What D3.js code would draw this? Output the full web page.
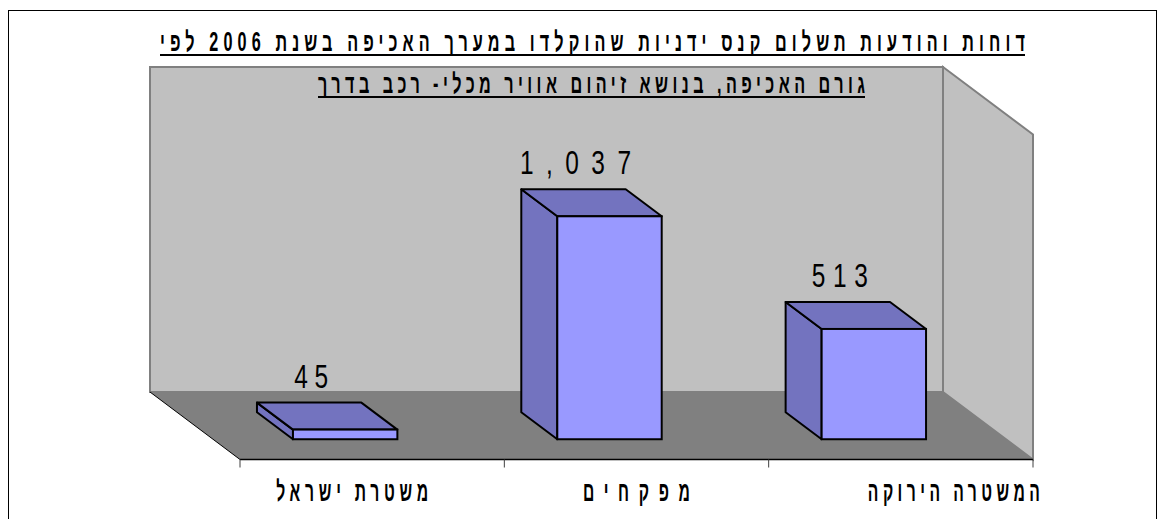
<!DOCTYPE html>
<html>
<head>
<meta charset="utf-8">
<script src="https://cdn.jsdelivr.net/npm/d3@7"></script>
<style>
  body { margin: 0; background: white; }
  text { font-family: "Liberation Sans", Arial, sans-serif; }
</style>
</head>
<body>
<script>
var categories = ["משטרת ישראל", "מפקחים", "המשטרה הירוקה"];
var values = [45, 1037, 513];
var titleLines = [
  "דוחות והודעות תשלום קנס ידניות שהוקלדו במערך האכיפה בשנת 2006 לפי",
  "גורם האכיפה, בנושא זיהום אוויר מכלי- רכב בדרך"
];

var width = 1165,
    height = 519;

// 3D box of the chart
var floorY = 459.5, leftX = 240, rightX = 1033,
    depthX = -90, depthY = -67.5, wallTop = 67;
var barFront = 0.3, barBack = 0.7;

var svg = d3.select("body").append("svg")
  .attr("width", width)
  .attr("height", height);

svg.append("rect")
  .attr("x", 8.5).attr("y", 10.5)
  .attr("width", 1148).attr("height", 600)
  .style("fill", "white")
  .style("stroke", "black")
  .style("stroke-width", 1);

var x = d3.scaleBand()
  .domain(categories)
  .range([leftX, rightX])
  .paddingInner(0.605)
  .paddingOuter(0.3025);

var y = d3.scaleLinear()
  .domain([0, 1200])
  .range([0, 258]);

function pts(a) { return a.map(function(p) { return p.join(","); }).join(" "); }

// condensed, letter-spaced text like the original narrow font
function narrowText(sel, o) {
  sel.attr("transform", function(d, i) { return "translate(" + o.x(d, i) + "," + o.y(d, i) + ") scale(" + o.s + ",1)"; })
    .attr("text-anchor", "middle")
    .attr("textLength", function(d, i) { return o.len(d, i) / o.s; })
    .attr("lengthAdjust", "spacing")
    .style("font-size", o.size + "px");
  if (o.rtl) sel.attr("direction", "rtl");
  if (o.bold) sel.style("font-weight", "bold");
  return sel;
}

var g = svg.append("g");

// back wall
g.append("polygon")
  .attr("points", pts([[leftX + depthX, wallTop], [rightX + depthX, wallTop],
                       [rightX + depthX, floorY + depthY], [leftX + depthX, floorY + depthY]]))
  .style("fill", "#c0c0c0").style("stroke", "#808080").style("stroke-width", 2);

// side wall
g.append("polygon")
  .attr("points", pts([[rightX + depthX, wallTop], [rightX, wallTop - depthY],
                       [rightX, floorY], [rightX + depthX, floorY + depthY]]))
  .style("fill", "#c0c0c0").style("stroke", "#808080").style("stroke-width", 2);

// floor
g.append("polygon")
  .attr("points", pts([[leftX + depthX, floorY + depthY], [rightX + depthX, floorY + depthY],
                       [rightX, floorY], [leftX, floorY]]))
  .style("fill", "#808080").style("stroke", "none");

g.append("line")
  .attr("x1", leftX + depthX).attr("y1", floorY + depthY)
  .attr("x2", leftX).attr("y2", floorY)
  .style("stroke", "black").style("stroke-width", 1);

g.append("line")
  .attr("x1", leftX).attr("y1", floorY)
  .attr("x2", rightX).attr("y2", floorY)
  .style("stroke", "black").style("stroke-width", 1.5);

// tick marks between categories
var bounds = [leftX].concat(categories.map(function(c) { return x(c) + x.bandwidth() / 2 + x.step() / 2; }));
g.selectAll(".tick-mark")
  .data(bounds)
  .enter().append("line")
  .attr("class", "tick-mark")
  .attr("x1", function(d) { return d; }).attr("x2", function(d) { return d; })
  .attr("y1", floorY).attr("y2", floorY + 8)
  .style("stroke", "#404040").style("stroke-width", 1);

// bars
var fx = barFront * depthX, fy = barFront * depthY,
    bx = barBack * depthX, by = barBack * depthY;

var bars = g.selectAll(".bar")
  .data(categories.map(function(c, i) { return { cat: c, value: values[i] }; }))
  .enter().append("g")
  .attr("class", "bar");

function geom(d) {
  var x0 = x(d.cat) + fx, x1 = x0 + x.bandwidth();
  var yb = floorY + fy, yt = yb - y(d.value);
  var ox = bx - fx, oy = by - fy;
  return { x0: x0, x1: x1, yb: yb, yt: yt, ox: ox, oy: oy };
}

bars.append("polygon")
  .attr("points", function(d) {
    var q = geom(d);
    return pts([[q.x0 + q.ox, q.yt + q.oy], [q.x0, q.yt], [q.x0, q.yb], [q.x0 + q.ox, q.yb + q.oy]]);
  })
  .style("fill", "#7373bf").style("stroke", "black").style("stroke-width", 2)
  .style("stroke-linejoin", "round");

bars.append("polygon")
  .attr("points", function(d) {
    var q = geom(d);
    return pts([[q.x0 + q.ox, q.yt + q.oy], [q.x1 + q.ox, q.yt + q.oy], [q.x1, q.yt], [q.x0, q.yt]]);
  })
  .style("fill", "#7373bf").style("stroke", "black").style("stroke-width", 2)
  .style("stroke-linejoin", "round");

bars.append("rect")
  .attr("x", function(d) { return geom(d).x0; })
  .attr("y", function(d) { return geom(d).yt; })
  .attr("width", x.bandwidth())
  .attr("height", function(d) { var q = geom(d); return q.yb - q.yt; })
  .style("fill", "#9999ff").style("stroke", "black").style("stroke-width", 2);

// value labels
var fmt = d3.format(",");
var valueWidths = [34, 111, 56];
bars.append("text")
  .call(narrowText, {
    x: function(d) { return geom(d).x0 + x.bandwidth() / 2 - 34; },
    y: function(d) { var q = geom(d); return q.yt + q.oy - 15; },
    len: function(d, i) { return valueWidths[i]; },
    s: 0.72, size: 34
  })
  .text(function(d) { return fmt(d.value); });

// category labels (the original places them off-centre)
var labelShift = [-20, 0, 53];
var labelWidths = [152, 107, 172];
svg.append("g").selectAll("text")
  .data(categories)
  .enter().append("text")
  .call(narrowText, {
    x: function(d, i) { return x(d) + x.bandwidth() / 2 + labelShift[i]; },
    y: function() { return 501; },
    len: function(d, i) { return labelWidths[i]; },
    s: 0.56, size: 28, rtl: true, bold: true
  })
  .text(function(d) { return d; });

// title
var titleSpecs = [
  { cx: 592.5, y: 51, len: 865, ul: 55 },
  { cx: 591.5, y: 93, len: 547, ul: 97 }
];
var title = svg.append("g").selectAll("g")
  .data(titleLines)
  .enter().append("g");

title.append("text")
  .call(narrowText, {
    x: function(d, i) { return titleSpecs[i].cx; },
    y: function(d, i) { return titleSpecs[i].y; },
    len: function(d, i) { return titleSpecs[i].len; },
    s: 0.6, size: 27, rtl: true, bold: true
  })
  .text(function(d) { return d; });

title.append("line")
  .attr("x1", function(d, i) { return titleSpecs[i].cx - titleSpecs[i].len / 2; })
  .attr("x2", function(d, i) { return titleSpecs[i].cx + titleSpecs[i].len / 2; })
  .attr("y1", function(d, i) { return titleSpecs[i].ul; })
  .attr("y2", function(d, i) { return titleSpecs[i].ul; })
  .style("stroke", "black")
  .style("stroke-width", 2);
</script>
</body>
</html>
